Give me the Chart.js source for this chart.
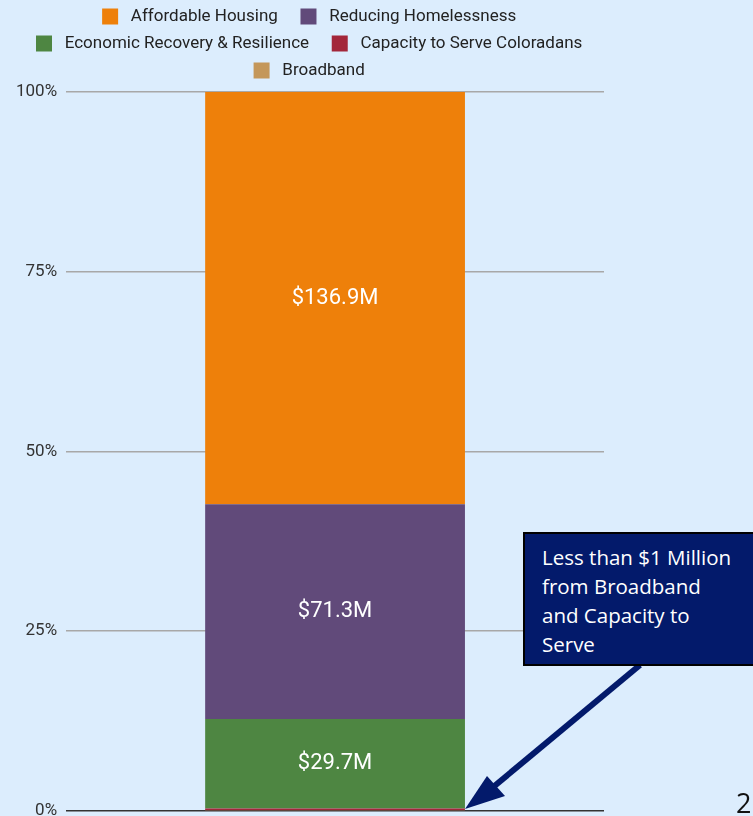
<!DOCTYPE html>
<html>
<head>
<meta charset="utf-8">
<script src="https://cdn.jsdelivr.net/npm/chart.js@4.4.0/dist/chart.umd.min.js"></script>
<style>
  html, body { margin: 0; padding: 0; background: #dcedfd; }
  body { width: 753px; height: 816px; position: relative; overflow: hidden; }
  #wrap { position: absolute; left: 0; top: 0; width: 624px; height: 816px; overflow: hidden; }
  #note {
    position: absolute; left: 523px; top: 532px; width: 240px; height: 134px;
    background: #031a6b; border: 2px solid #000; box-sizing: border-box;
    color: #fff; font-family: "Open Sans", sans-serif; font-size: 20.5px; line-height: 29px;
    padding: 9px 0 0 17px;
  }
  #arrow { position: absolute; left: 0; top: 0; }
  #page { position: absolute; left: 736px; top: 784px; font-family: "Open Sans", sans-serif; font-size: 27px; color: #111; }
</style>
</head>
<body>
<div id="wrap"><canvas id="myChart" width="624" height="830"></canvas></div>
<svg id="arrow" width="753" height="816">
  <line x1="640" y1="665" x2="492" y2="788" stroke="#031a6b" stroke-width="6"/>
  <polygon points="465,809 487,776 505,796" fill="#031a6b"/>
</svg>
<div id="note">Less than $1 Million<br>from Broadband<br>and Capacity to<br>Serve</div>
<div id="page">2</div>
<script>
const categories = ['Funding'];
const seriesNames = ['Broadband', 'Capacity to Serve Coloradans', 'Economic Recovery & Resilience', 'Reducing Homelessness', 'Affordable Housing'];
const broadband = [0.2];
const capacity = [0.6];
const economic = [29.7];
const homelessness = [71.3];
const affordable = [136.9];
const tickLabels = ['0%', '25%', '50%', '75%', '100%'];

const colors = ['#c4975a', '#a3263a', '#4e8642', '#614a7a', '#ee800a'];
const raw = [broadband, capacity, economic, homelessness, affordable];
const totals = categories.map((c, i) => raw.reduce((s, a) => s + a[i], 0));

const valueLabels = {
    id: 'valueLabels',
    afterDatasetsDraw(chart) {
        const ctx = chart.ctx;
        ctx.save();
        ctx.fillStyle = '#ffffff';
        ctx.font = '22px Roboto';
        ctx.textAlign = 'center';
        ctx.textBaseline = 'middle';
        chart.data.datasets.forEach((ds, di) => {
            const meta = chart.getDatasetMeta(di);
            meta.data.forEach((bar, i) => {
                const v = raw[di][i];
                if (v < 5) return;
                const mid = (bar.y + bar.base) / 2;
                ctx.fillText('$' + v.toFixed(1) + 'M', bar.x, mid);
            });
        });
        ctx.restore();
    }
};

// push the plot a little further below the legend, and nudge the legend right
const legendGap = {
    id: 'legendGap',
    beforeInit(chart) {
        const fit = chart.legend.fit;
        chart.legend.fit = function () {
            fit.call(this);
            this.height += 3;
        };
    },
    afterLayout(chart) {
        chart.legend.left += 10;
        chart.legend.right += 10;
    }
};

new Chart(document.getElementById('myChart'), {
    type: 'bar',
    data: {
        labels: categories,
        datasets: seriesNames.map((name, k) => ({
            label: name,
            data: raw[k].map((v, i) => v / totals[i] * 100),
            backgroundColor: colors[k],
            borderWidth: 0,
            barPercentage: 0.6,
            categoryPercentage: 0.805
        }))
    },
    options: {
        responsive: false,
        animation: false,
        layout: { padding: { left: 7, right: 20, top: -2, bottom: 6 } },
        plugins: {
            tooltip: { enabled: false },
            legend: {
                reverse: true,
                labels: {
                    font: { family: 'Roboto', size: 17 },
                    color: '#222',
                    boxWidth: 16,
                    boxHeight: 16,
                    padding: 10,
                    generateLabels: (chart) => Chart.defaults.plugins.legend.labels.generateLabels(chart)
                        .map(l => Object.assign(l, { text: ' ' + l.text + '   ' }))
                }
            }
        },
        scales: {
            x: {
                display: false,
                stacked: true
            },
            y: {
                stacked: true,
                min: 0,
                max: 100,
                ticks: {
                    stepSize: 25,
                    padding: 9,
                    color: '#333',
                    font: { family: 'Roboto', size: 17 },
                    callback: (v) => tickLabels[v / 25]
                },
                grid: {
                    drawTicks: false,
                    color: (c) => c.tick && c.tick.value === 0 ? '#333' : '#a8a8a8',
                    lineWidth: 1.5
                },
                border: { display: false }
            }
        }
    },
    plugins: [valueLabels, legendGap]
});
</script>
</body>
</html>
